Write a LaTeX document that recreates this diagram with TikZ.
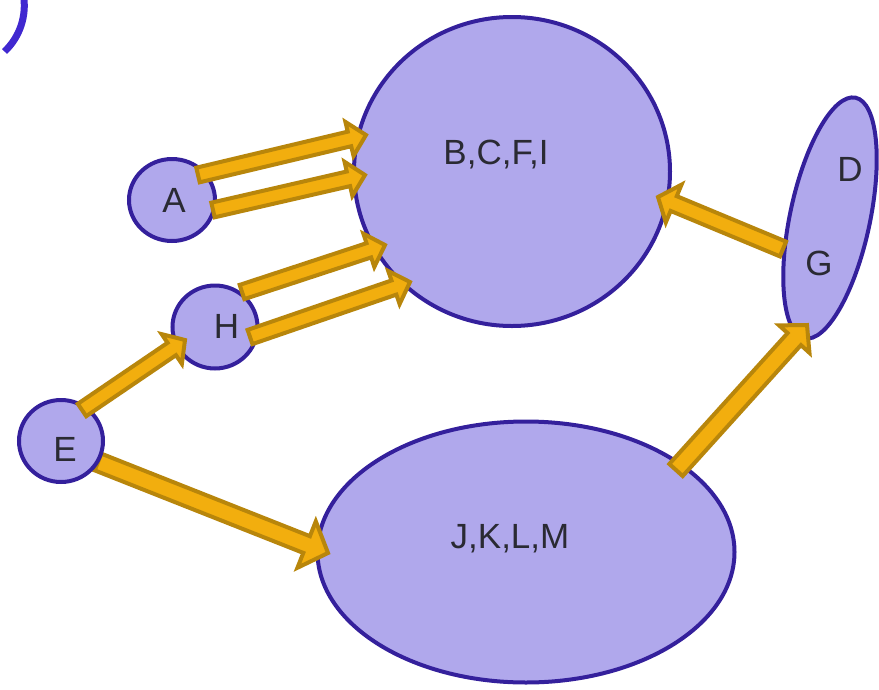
\documentclass[tikz,border=0pt]{standalone}
\usepackage{fontspec}
\setmainfont{Liberation Sans}
\usetikzlibrary{shapes.geometric,calc}

\definecolor{setfill}{HTML}{B0A8EC}
\definecolor{setline}{HTML}{34209C}
\definecolor{arcblue}{HTML}{4028D0}
\definecolor{arrfill}{HTML}{F2AE0E}
\definecolor{arrline}{HTML}{B8860B}
\definecolor{txt}{HTML}{2A2A33}

\tikzset{
  set/.style={ellipse, draw=setline, fill=setfill, line width=4pt, inner sep=0pt},
  lbl/.style={text=txt, font=\fontsize{35}{42}\selectfont, inner sep=0pt, anchor=base},
  fatarrow/.style={draw=arrline, fill=arrfill, line width=4pt, line join=miter},
}

\pgfdeclarelayer{front}
\pgfsetlayers{main,front}

% tail, tip, half shaft, half head, head length
\newcommand\fatarrow[5]{%
  \coordinate (fa-base) at ($(#2)!#5!(#1)$);
  \draw[fatarrow] ($(#1)!#3!90:(#2)$) -- ($(fa-base)!#3!-90:(#1)$)
    -- ($(fa-base)!#4!-90:(#1)$) -- (#2) -- ($(fa-base)!#4!90:(#1)$)
    -- ($(fa-base)!#3!90:(#1)$) -- ($(#1)!#3!-90:(#2)$) -- cycle;
}

\begin{document}
\begin{tikzpicture}[x=1pt,y=-1pt]
  \useasboundingbox (0,0) rectangle (879,689);
  % piece of a ring in the corner
  \begin{scope}
    \clip (0,0) rectangle (879,689);
    \draw[line width=7pt, arcblue] (-38.9,5.6) ++(-10:63.2)
      arc[start angle=10, end angle=-46.6, radius=63.2pt];
  \end{scope}

  % sets
  \node[set, minimum width=316pt, minimum height=309pt] (bcfi) at (512,171.5) {};
  \node[set, minimum width=417pt, minimum height=261pt] (jklm) at (526,552) {};
  \node[set, minimum width=246pt, minimum height=80pt, rotate=78] (dg) at (830,218) {};
  \node[set, minimum width=86pt, minimum height=82pt] (a) at (172,200) {};
  \node[set, minimum width=85pt, minimum height=83pt] (h) at (215,327) {};
  \begin{pgfonlayer}{front}
    \node[set, minimum width=84pt, minimum height=82pt] (e) at (61,441) {};
    \node[lbl] (e-l) at (65,461) {E};
  \end{pgfonlayer}

  \node[lbl] (bcfi-l) at (496,164) {B,C,F,I};
  \node[lbl] (jklm-l) at (510,548) {J,K,L,M};
  \node[lbl] (d-l) at (850,181) {D};
  \node[lbl] (g-l) at (819,275) {G};
  \node[lbl] (a-l) at (174,212) {A};
  \node[lbl] (h-l) at (226.5,338) {H};

  % arrow ends
  \coordinate (a-t1) at ($(a)+(26,-25)$);
  \coordinate (a-t2) at ($(a)+(41,10)$);
  \coordinate (h-t1) at ($(h)+(27,-35)$);
  \coordinate (h-t2) at ($(h)+(35,10)$);
  \coordinate (h-t3) at ($(h)+(-30,13)$);
  \coordinate (e-t1) at ($(e)+(21,-31)$);
  \coordinate (e-t2) at ($(e)+(37,21)$);
  \coordinate (bcfi-t1) at ($(bcfi)+(-146,-36.5)$);
  \coordinate (bcfi-t2) at ($(bcfi)+(-147,3.5)$);
  \coordinate (bcfi-t3) at ($(bcfi)+(-127,73.5)$);
  \coordinate (bcfi-t4) at ($(bcfi)+(-102,110.5)$);
  \coordinate (bcfi-t5) at ($(bcfi)+(146,25.5)$);
  \coordinate (jklm-t1) at ($(jklm)+(-198,1)$);
  \coordinate (jklm-t2) at ($(jklm)+(150,-82)$);
  \coordinate (dg-t1) at ($(dg)+(-47,31)$);
  \coordinate (dg-t2) at ($(dg)+(-23,107)$);

  % arrows
  \fatarrow{e-t2}{jklm-t1}{9pt}{25pt}{23pt}
  \fatarrow{a-t1}{bcfi-t1}{7.5pt}{17.5pt}{17pt}
  \fatarrow{a-t2}{bcfi-t2}{7.5pt}{17.5pt}{17pt}
  \fatarrow{h-t1}{bcfi-t3}{7.5pt}{17.5pt}{17pt}
  \fatarrow{h-t2}{bcfi-t4}{7.5pt}{17.5pt}{17pt}
  \fatarrow{dg-t1}{bcfi-t5}{8pt}{20.5pt}{17pt}
  \fatarrow{jklm-t2}{dg-t2}{9pt}{20.5pt}{19pt}
  \begin{pgfonlayer}{front}
    \fatarrow{e-t1}{h-t3}{7.5pt}{18pt}{16pt}
  \end{pgfonlayer}
\end{tikzpicture}
\end{document}
